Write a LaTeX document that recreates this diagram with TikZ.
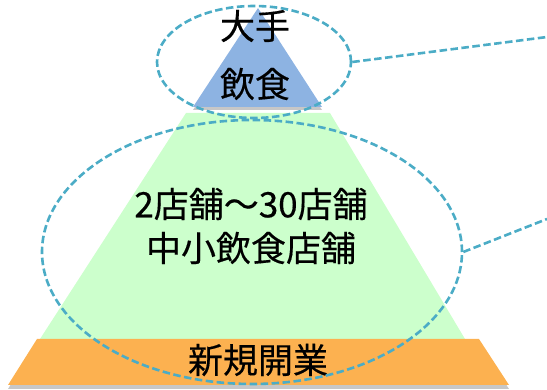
\documentclass[tikz,border=0pt]{standalone}
\usepackage{fontspec}
\newfontfamily\cjk[FakeBold=0.4]{Noto Sans CJK JP}
\usetikzlibrary{shapes.geometric}
\definecolor{tierblue}{HTML}{8DB3E2}
\definecolor{tiergreen}{HTML}{CCFFCC}
\definecolor{tierorange}{HTML}{FCB150}
\definecolor{dashcol}{HTML}{4BACC6}
\tikzset{
  dashline/.style={draw=dashcol, line width=2.6pt, dash pattern=on 7.5pt off 3.5pt},
  ring/.style={ellipse, dashline, inner sep=0pt},
  label/.style={font=\cjk\fontsize{35}{44}\selectfont, text=black, align=center, inner sep=0pt},
  shade/.style={fill=black, opacity=0.22}
}
\begin{document}
\begin{tikzpicture}[x=1pt, y=-1pt]
\useasboundingbox (0,0) rectangle (547,390);
% shadows
\fill[shade] (193,110) -- (258,11) -- (322,110) -- cycle;
\fill[shade] (37,342) -- (479,342) -- (509,389) -- (8,389) -- cycle;
% tiers
\fill[tierblue] (193,107) -- (258,8) -- (322,107) -- cycle;
\fill[tiergreen] (186,113) -- (330,113) -- (465,339) -- (40,339) -- cycle;
\fill[tierorange] (37,339) -- (479,339) -- (509,385) -- (8,385) -- cycle;
% labels
\node[label] (top1) at (255,26) {大手};
\node[label] (top2) at (255,84) {飲食};
\node[label] (mid) at (251,226) {2店舗～30店舗\\中小飲食店舗};
\node[label] (base) at (258,360) {新規開業};
% rings
\node[ring, minimum width=194pt, minimum height=112pt] (e1) at (254,62) {};
\node[ring, minimum width=420pt, minimum height=264pt] (e2) at (252,252) {};
\coordinate (c1) at (547,37);
\coordinate (c2) at (547,219);
\draw[dashline] (e1.east) -- (c1);
\draw[dashline] (e2.east) -- (c2);
\end{tikzpicture}
\end{document}
